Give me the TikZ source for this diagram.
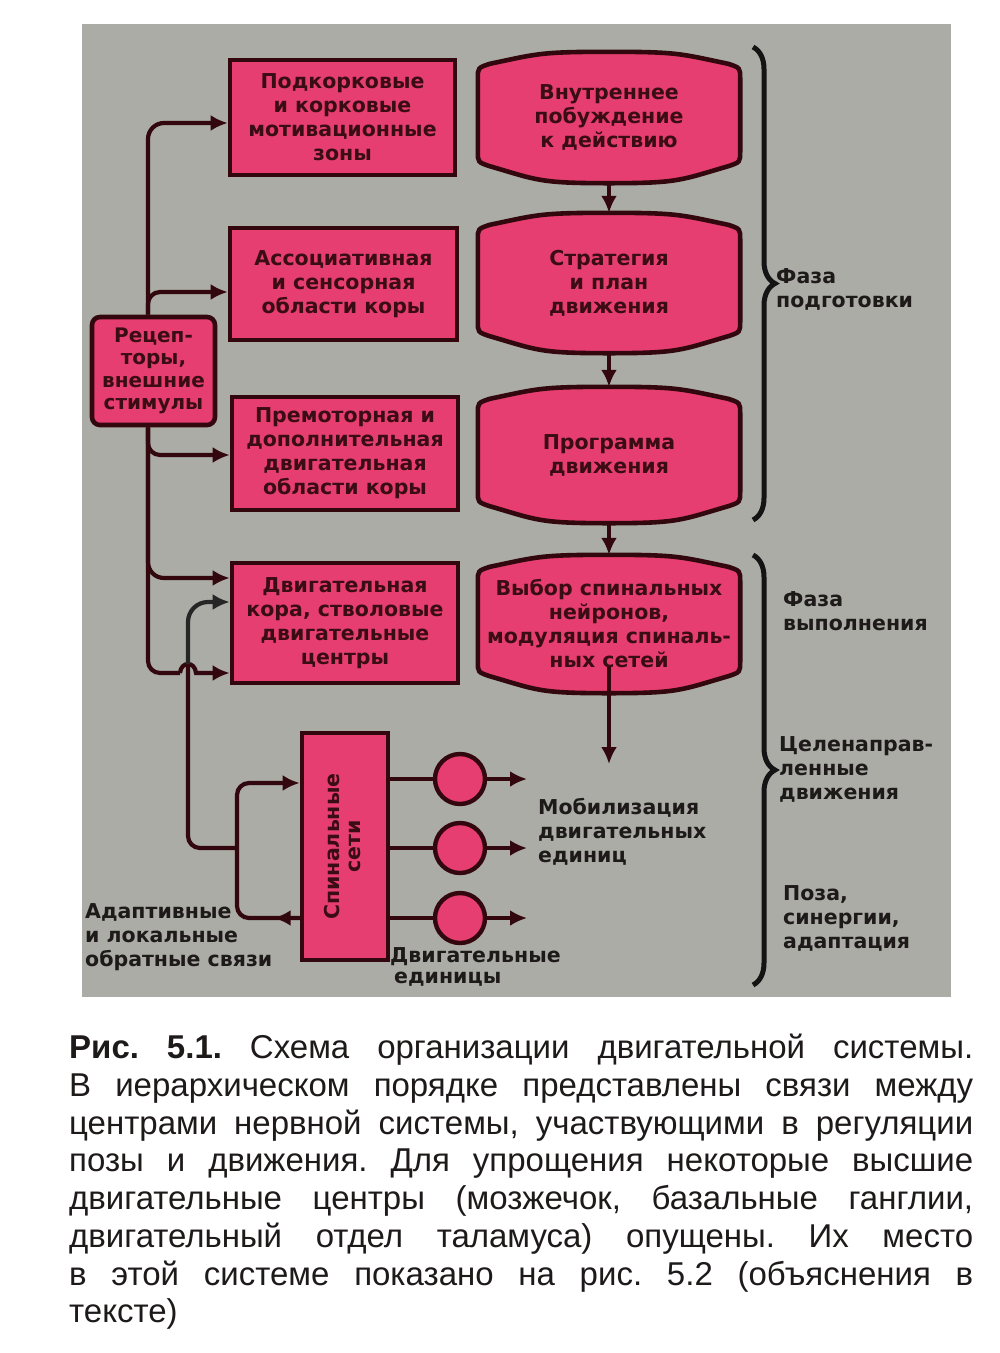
\documentclass[tikz,border=0pt]{standalone}
\usepackage{fontspec}
\setmainfont{Liberation Sans}
\newfontfamily\dfont{DejaVu Sans}
\usetikzlibrary{calc,arrows.meta,decorations.pathreplacing}
\pgfdeclarelayer{back0}
\pgfdeclarelayer{back1}
\pgfsetlayers{back0,back1,main}
\frenchspacing

\definecolor{bggray}{RGB}{170,172,165}
\definecolor{pinkfill}{RGB}{230,62,112}
\definecolor{maroonline}{RGB}{50,8,14}
\definecolor{boxtext}{RGB}{58,12,20}
\definecolor{txtdark}{RGB}{30,26,26}

\newcommand\drawbarrel[1]{%
\filldraw[barrelsty]
 ($(#1.south west)+(0,-32)$)
 -- ($(#1.north west)+(0,27)$)
 .. controls ($(#1.north west)+(0,16)$) .. ($(#1.north west)+(12,12)$)
 .. controls ($(#1.north west)+(60,2)$) and ($(#1.north)+(-70,0)$) .. (#1.north)
 .. controls ($(#1.north)+(70,0)$) and ($(#1.north east)+(-60,2)$) .. ($(#1.north east)+(-12,12)$)
 .. controls ($(#1.north east)+(0,16)$) .. ($(#1.north east)+(0,27)$)
 -- ($(#1.south east)+(0,-32)$)
 .. controls ($(#1.south east)+(0,-21)$) .. ($(#1.south east)+(-12,-17)$)
 .. controls ($(#1.south east)+(-60,-3)$) and ($(#1.south)+(70,0)$) .. (#1.south)
 .. controls ($(#1.south)+(-70,0)$) and ($(#1.south west)+(60,-3)$) .. ($(#1.south west)+(12,-17)$)
 .. controls ($(#1.south west)+(0,-21)$) .. cycle;}

\begin{document}
\begin{tikzpicture}[x=1pt,y=-1pt,
  dtext/.style={font=\dfont\bfseries\fontsize{20.5}{24}\selectfont},
  conn/.style={draw=maroonline, line width=4.2pt},
  arr/.style={conn, -{Latex[length=17pt,width=16pt]}},
  pbox/.style={dtext, draw=maroonline, line width=4.6pt, fill=pinkfill, text=boxtext, align=center, inner sep=0pt},
  btext/.style={dtext, text=boxtext, align=center, inner sep=0pt, minimum width=262pt},
  barrelsty/.style={draw=maroonline, line width=4.6pt, fill=pinkfill},
  udot/.style={circle, draw=maroonline, line width=4.4pt, fill=pinkfill, minimum size=50pt, inner sep=0pt},
  lab/.style={dtext, text=txtdark, align=left, anchor=west, inner sep=0pt},
  bracesty/.style={draw=black!92, line width=5pt, decorate, decoration={brace, amplitude=22pt}},
  capline/.style={font=\fontsize{33}{38}\selectfont, text=txtdark, anchor=base west, inner sep=0pt}
]
\useasboundingbox (0,0) rectangle (1000,1353);
\begin{pgfonlayer}{back0}
  \fill[white] (0,0) rectangle (1000,1353);
  \fill[bggray] (82,24) rectangle (951,997);
\end{pgfonlayer}

% left column boxes
\node[pbox, minimum width=225pt, minimum height=115pt] (P1) at (342.5,117.5)
  {Подкорковые\\и корковые\\мотивационные\\зоны};
\node[pbox, minimum width=227pt, minimum height=112pt] (P2) at (343.5,284)
  {Ассоциативная\\и сенсорная\\области коры};
\node[pbox, minimum width=226pt, minimum height=113pt] (P3) at (345,453.5)
  {Премоторная и\\дополнительная\\двигательная\\области коры};
\node[pbox, minimum width=226pt, minimum height=120pt] (P4) at (345,623)
  {Двигательная\\кора, стволовые\\двигательные\\центры};
\node[pbox, rounded corners=8pt, minimum width=123pt, minimum height=108pt,
  font=\dfont\bfseries\fontsize{20}{22.5}\selectfont] (R) at (153.5,371)
  {Рецеп-\\торы,\\внешние\\стимулы};
\node[pbox, minimum width=86pt, minimum height=227pt] (Sp) at (345,846.5)
  {\rotatebox{90}{\begin{tabular}{@{}c@{}}Спинальные\\[-3pt]сети\end{tabular}}};

% right column (barrels)
\node[btext, minimum height=131pt] (B1) at (609,117.5)
  {\fontsize{20.5}{25.5}\selectfont Внутреннее\\побуждение\\к действию};
\node[btext, minimum height=140pt] (B2) at (609,283)
  {Стратегия\\и план\\движения};
\node[btext, minimum height=136pt] (B3) at (609,455)
  {\fontsize{20.5}{27}\selectfont Программа\\движения};
\node[btext, minimum height=138pt] (B4) at (609,624)
  {Выбор спинальных\\нейронов,\\модуляция спиналь-\\ных сетей};
\begin{pgfonlayer}{back1}
  \drawbarrel{B1}
  \drawbarrel{B2}
  \drawbarrel{B3}
  \drawbarrel{B4}
\end{pgfonlayer}

\draw[arr] (B1.south) -- (B2.north);
\draw[arr] (B2.south) -- (B3.north);
\draw[arr] (B3.south) -- (B4.north);
\coordinate (mobin) at (609,764);
\draw[arr] ([yshift=26pt]B4.south) -- (mobin);

% motor units
\node[udot] (c1) at (460,779) {};
\node[udot] (c2) at (460,848) {};
\node[udot] (c3) at (460,918) {};
\coordinate (o1) at (527,779);
\coordinate (o2) at (527,848);
\coordinate (o3) at (527,918);
\foreach \c/\o in {c1/o1,c2/o2,c3/o3}{
  \draw[conn] (Sp.east |- \c.west) -- (\c.west);
  \draw[arr] (\c.east) -- (\o);
}

% receptor connections
\coordinate (rt) at ([xshift=-5.5pt]R.north);
\coordinate (rb) at ([xshift=-5.5pt]R.south);
\draw[arr, rounded corners=16pt] (rt) |- ([yshift=-5.5pt]P1.west);
\draw[arr, rounded corners=12pt] (rt) |- ([yshift=-8pt]P2.west);
\draw[arr, rounded corners=12pt] (rb) |- ([yshift=-1.5pt]P3.west);
\draw[arr, rounded corners=16pt] (rb) |- ([yshift=45pt]P4.west);
\coordinate (hopA) at (180,673);
\coordinate (hopB) at (196,673);
\draw[conn, rounded corners=12pt] (rb) |- (hopA);
\draw[arr] (hopA) .. controls (181,661) and (195,661) .. (hopB) -- ([yshift=-50pt]P4.west);

% feedback loops
\coordinate (fbj) at (237,848);
\coordinate (fbx) at (188,664);
\draw[arr, rounded corners=12pt] ([yshift=-71.5pt]Sp.west) -| (fbj) |- ([yshift=63.5pt]Sp.west);
\draw[arr] ([yshift=-71.5pt]Sp.west) -- ++(-26,0);
\draw[conn, rounded corners=12pt] (fbj) -| (fbx);
\draw[draw=black!85, line width=4.2pt, -{Latex[length=17pt,width=16pt]}, rounded corners=20pt]
  (fbx) |- ([yshift=21pt]P4.west);

% braces
\coordinate (brA1) at (753,47);
\coordinate (brA2) at (753,520);
\coordinate (brB1) at (753,555);
\coordinate (brB2) at (753,985);
\draw[bracesty] (brA1) -- (brA2);
\draw[bracesty] (brB1) -- (brB2);

% labels
\node[lab] (L1) at (776,289) {Фаза\\подготовки};
\node[lab] (L2) at (783,611) {Фаза\\выполнения};
\node[lab] (L3) at (779,769) {Целенаправ-\\ленные\\движения};
\node[lab] (L4) at (783,918) {Поза,\\синергии,\\адаптация};
\node[lab] (Mob) at (538,832) {Мобилизация\\двигательных\\единиц};
\node[lab] (Ad) at (85,937) {Адаптивные\\и локальные\\обратные связи};
\node[lab, font=\dfont\bfseries\fontsize{20.5}{21}\selectfont] (DU) at (390,967) {Двигательные\\\hspace*{4pt}единицы};

% caption
\node[capline] (cap1) at (69,1058) {\makebox[904pt][s]{\textbf{Рис. 5.1.} Схема организации двигательной системы.}};
\node[capline] (cap2) at (69,1096) {\makebox[904pt][s]{В иерархическом порядке представлены связи между}};
\node[capline] (cap3) at (69,1134) {\makebox[904pt][s]{центрами нервной системы, участвующими в регуляции}};
\node[capline] (cap4) at (69,1171) {\makebox[904pt][s]{позы и движения. Для упрощения некоторые высшие}};
\node[capline] (cap5) at (69,1209) {\makebox[904pt][s]{двигательные центры (мозжечок, базальные ганглии,}};
\node[capline] (cap6) at (69,1247) {\makebox[904pt][s]{двигательный отдел таламуса) опущены. Их место}};
\node[capline] (cap7) at (69,1285) {\makebox[904pt][s]{в этой системе показано на рис. 5.2 (объяснения в}};
\node[capline] (cap8) at (69,1322) {тексте)};
\end{tikzpicture}
\end{document}
